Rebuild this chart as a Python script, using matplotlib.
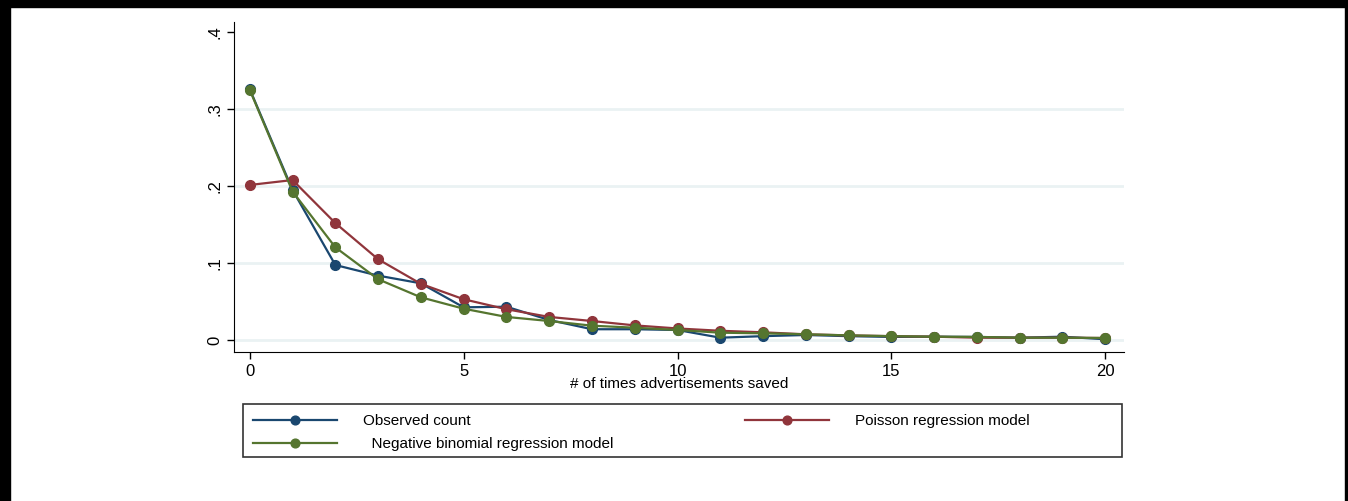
import matplotlib
matplotlib.use("Agg")
import matplotlib.pyplot as plt
from matplotlib.patches import Rectangle

plt.rcParams['font.family'] = ['Liberation Sans', 'DejaVu Sans']

# times advertisements saved (0..20)
counts = list(range(21))

observed = [0.326, 0.195, 0.0975, 0.0837, 0.0737, 0.0425, 0.0433, 0.026, 0.014, 0.014,
            0.013, 0.003, 0.005, 0.0065, 0.005, 0.004, 0.0043, 0.004, 0.003, 0.0043, 0.001]
poisson = [0.2016, 0.208, 0.152, 0.105, 0.073, 0.053, 0.040, 0.030, 0.0247, 0.019,
           0.015, 0.012, 0.010, 0.0074, 0.006, 0.005, 0.0043, 0.003, 0.003, 0.003, 0.0026]
negbin = [0.325, 0.193, 0.1205, 0.079, 0.0555, 0.0407, 0.030, 0.0247, 0.0186, 0.016,
          0.013, 0.0095, 0.0087, 0.0074, 0.006, 0.005, 0.0043, 0.004, 0.003, 0.003, 0.0026]

yticks = [0, 0.1, 0.2, 0.3, 0.4]
ytick_labels = ['0', '.1', '.2', '.3', '.4']
xticks = [0, 5, 10, 15, 20]

navy = '#1A476F'
maroon = '#90353B'
green = '#55752F'

W, H = 1348, 501
fig = plt.figure(figsize=(W / 100, H / 100), dpi=100)

# black frame (top, left, right)
fig.patches.append(Rectangle((0, 1 - 7 / H), 1, 7 / H, transform=fig.transFigure, color='black', zorder=0))
fig.patches.append(Rectangle((0, 0), 10 / W, 1, transform=fig.transFigure, color='black', zorder=0))
fig.patches.append(Rectangle((1 - 3 / W, 0), 3 / W, 1, transform=fig.transFigure, color='black', zorder=0))

ax = fig.add_axes([234 / W, 1 - 352 / H, (1124 - 234) / W, (352 - 22) / H])

for v in [0, 0.1, 0.2, 0.3]:
    ax.axhline(v, color='#EAF2F3', lw=2, zorder=0)

l1, = ax.plot(counts, observed, color=navy, lw=1.6, marker='o', ms=7, zorder=3)
l2, = ax.plot(counts, poisson, color=maroon, lw=1.6, marker='o', ms=7, zorder=3)
l3, = ax.plot(counts, negbin, color=green, lw=1.6, marker='o', ms=7, zorder=4)

ax.set_xlim(-0.37, 20.44)
ax.set_ylim(-0.0156, 0.4135)
ax.set_yticks(yticks)
ax.set_yticklabels(ytick_labels, rotation=90, va='center')
ax.set_xticks(xticks)
ax.tick_params(labelsize=12, length=5, width=1, color='black')
ax.spines['top'].set_visible(False)
ax.spines['right'].set_visible(False)
ax.set_xlabel('# of times advertisements saved', fontsize=11, labelpad=-1)

# legend box drawn by hand, wider than its contents like the original
fig.patches.append(Rectangle((243 / W, 1 - 457 / H), (1122 - 243) / W, 53 / H,
                             transform=fig.transFigure, fill=False,
                             edgecolor='#333333', lw=1.2, zorder=1))

# ncol=2 fills column by column, so order gives row 1: observed, poisson
leg = fig.legend([l1, l3, l2],
                 ['Observed count', '  Negative binomial regression model', 'Poisson regression model'],
                 loc='upper left', bbox_to_anchor=(253 / W, 1 - 414 / H),
                 ncol=2, fontsize=11, frameon=False,
                 handlelength=5.5, handletextpad=1.7, borderpad=0, labelspacing=0.6,
                 columnspacing=8.6, borderaxespad=0, markerscale=0.9)

fig.savefig('out.png', dpi=100)
